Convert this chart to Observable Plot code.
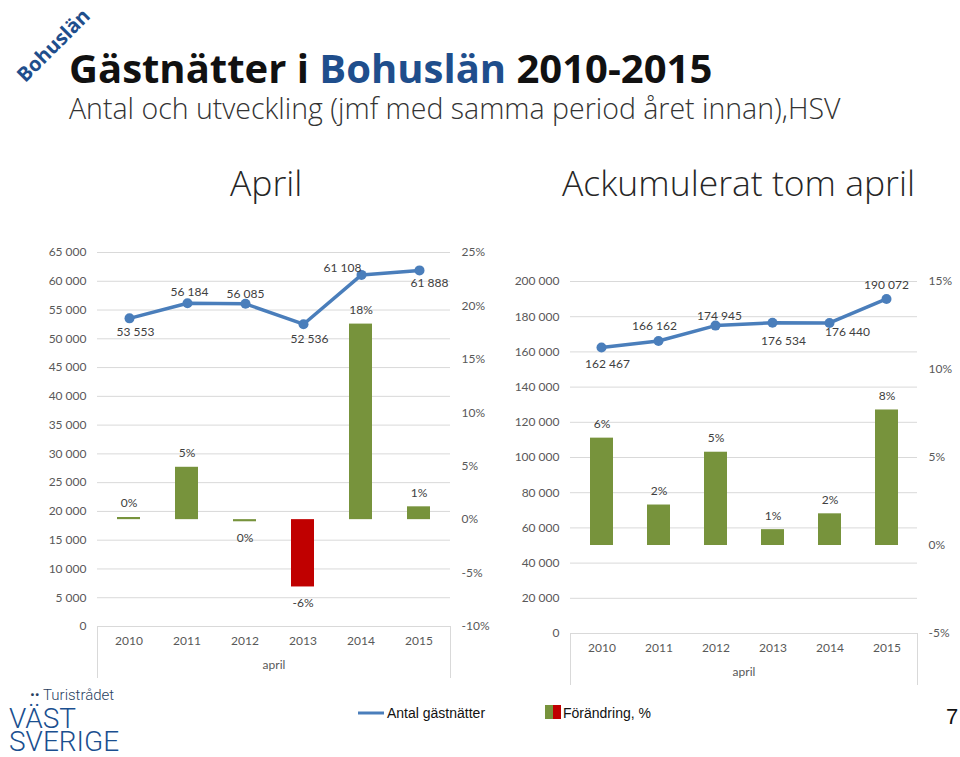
<!DOCTYPE html>
<html>
<head>
<meta charset="utf-8">
<script src="https://cdn.jsdelivr.net/npm/d3@7"></script>
<script src="https://cdn.jsdelivr.net/npm/@observablehq/plot@0.6"></script>
<style>
  html, body { margin: 0; padding: 0; background: #fff; }
  #page { position: relative; width: 960px; height: 757px; overflow: hidden; background: #fff; }
  .panel { position: absolute; }
  .panel svg { position: absolute; left: 0; top: 0; max-width: none; }
  .catbox { position: absolute; border-left: 1px solid #d9d9d9; border-right: 1px solid #d9d9d9; }
  #deco { position: absolute; left: 0; top: 0; }
</style>
</head>
<body>
<div id="page">
  <svg id="deco" width="960" height="757"></svg>
  <div class="panel" id="left"></div>
  <div class="panel" id="right"></div>
  <div class="catbox" style="left:97px; top:626px; width:352px; height:52px;"></div>
  <div class="catbox" style="left:570px; top:633px; width:346px; height:52px;"></div>
</div>
<script>
// ---------- data ----------
const years = ["2010", "2011", "2012", "2013", "2014", "2015"];

// April (left panel)
const aprilNights = [53553, 56184, 56085, 52536, 61108, 61888];
const aprilChange = [0.2, 4.9, -0.2, -6.3, 18.3, 1.2];          // %
const aprilCountTicks = [0, 5000, 10000, 15000, 20000, 25000, 30000, 35000, 40000, 45000, 50000, 55000, 60000, 65000];
const aprilPctTicks = [-10, -5, 0, 5, 10, 15, 20, 25];

// Ackumulerat tom april (right panel)
const cumNights = [162467, 166162, 174945, 176534, 176440, 190072];
const cumChange = [6.1, 2.3, 5.3, 0.9, 1.8, 7.7];               // %
const cumCountTicks = [0, 20000, 40000, 60000, 80000, 100000, 120000, 140000, 160000, 180000, 200000];
const cumPctTicks = [-5, 0, 5, 10, 15];

// label placement (styling only)
const aprilLabelDx = [6, 2, 0, 6, -19, 10];
const aprilLabelDy = [14, -11, -10, 15, -7, 13];
const cumLabelDx = [6, -4, 4, 11, 18, 0];
const cumLabelDy = [17, -15, -9, 18, 9, -14];

// ---------- styling ----------
const BLUE = "#4a7ebb";
const GREEN = "#77933c";
const RED = "#c00000";
const GRID = "#d9d9d9";
const AXIS_TXT = "#595959";
const LBL_TXT = "#404040";
const FONT = "Lato, 'Open Sans', sans-serif";

const fmtNum = d3.formatLocale({decimal: ",", thousands: "\u00a0", grouping: [3], currency: ["", ""]}).format(",d");
const fmtPct = d => `${Math.round(d) === 0 ? 0 : Math.round(d)}%`;

function panel(el, cfg) {
  const {width, height, mL, mR, mT, mB, counts, changes, countTicks, pctTicks, countMax, pctDomain, ldx, ldy, yearDy, aprilDy} = cfg;
  const rows = years.map((y, i) => ({year: y, n: counts[i], p: changes[i], dx: ldx[i], dy: ldy[i]}));
  const common = {
    width, height, marginLeft: mL, marginRight: mR, marginTop: mT, marginBottom: mB,
    style: {fontFamily: FONT, fontSize: "12px", color: AXIS_TXT, background: "transparent", overflow: "visible"}
  };
  // count layer (left axis, grid, line)
  const countPlot = Plot.plot({
    ...common,
    x: {type: "point", domain: years, padding: 0.5, axis: null},
    y: {domain: [0, countMax], axis: null},
    marks: [
      Plot.gridY(countTicks, {stroke: GRID, strokeOpacity: 1, strokeWidth: 1}),
      Plot.axisY(countTicks, {anchor: "left", tickSize: 0, tickPadding: 11, tickFormat: fmtNum, fill: AXIS_TXT, label: null}),
      Plot.line(rows, {x: "year", y: "n", stroke: BLUE, strokeWidth: 3.5}),
      Plot.dot(rows, {x: "year", y: "n", r: 5, fill: BLUE, stroke: "none"}),
      ...rows.map(r => Plot.text([r], {x: "year", y: "n", text: d => fmtNum(d.n), dx: r.dx, dy: r.dy, fill: LBL_TXT, fontSize: 12}))
    ]
  });
  // change layer (right axis, bars, x axis)
  const pctPlot = Plot.plot({
    ...common,
    x: {type: "band", domain: years, paddingInner: 0.6, paddingOuter: 0.3, axis: null},
    y: {domain: pctDomain, axis: null},
    marks: [
      Plot.barY(rows, {x: "year", y1: 0, y2: "p", fill: d => Math.round(d.p) < 0 ? RED : GREEN}),
      Plot.text(rows, {x: "year", y: "p", text: d => fmtPct(d.p), fill: LBL_TXT, fontSize: 12,
        filter: d => d.p >= 0, dy: -14}),
      Plot.text(rows, {x: "year", y: "p", text: d => fmtPct(d.p), fill: LBL_TXT, fontSize: 12,
        filter: d => d.p < 0, dy: 16}),
      Plot.axisY(pctTicks, {anchor: "right", tickSize: 0, tickPadding: 11, tickFormat: d => `${d}%`, fill: AXIS_TXT, label: null}),
      Plot.axisX({anchor: "bottom", tickSize: 0, tickPadding: yearDy, fill: AXIS_TXT, label: null, fontSize: 12}),
      Plot.text(["april"], {frameAnchor: "bottom", dy: aprilDy, fill: AXIS_TXT, fontSize: 12})
    ]
  });
  const host = document.getElementById(el);
  host.style.width = width + "px";
  host.style.height = height + "px";
  host.appendChild(countPlot);
  host.appendChild(pctPlot);
}

document.getElementById("left").style.cssText += "left:30px; top:240px;";
document.getElementById("right").style.cssText += "left:495px; top:270px;";

panel("left", {
  width: 465, height: 446, mL: 67, mR: 45, mT: 12, mB: 60,
  counts: aprilNights, changes: aprilChange, countTicks: aprilCountTicks, pctTicks: aprilPctTicks,
  countMax: 65000, pctDomain: [-10, 25], ldx: aprilLabelDx, ldy: aprilLabelDy, yearDy: 10, aprilDy: 42
});
panel("right", {
  width: 462, height: 420, mL: 75, mR: 40, mT: 11, mB: 57,
  counts: cumNights, changes: cumChange, countTicks: cumCountTicks, pctTicks: cumPctTicks,
  countMax: 200000, pctDomain: [-5, 15], ldx: cumLabelDx, ldy: cumLabelDy, yearDy: 10, aprilDy: 42
});

// ---------- slide decoration (titles, legend, logo) ----------
const deco = d3.select("#deco");
deco.append("text").attr("transform", "translate(53,45) rotate(-45)")
  .attr("text-anchor", "middle").attr("dominant-baseline", "central")
  .attr("font-family", "'Open Sans', sans-serif").attr("font-weight", 700).attr("font-size", 20)
  .attr("fill", "#1f4e8c").text("Bohuslän");

const title = deco.append("text").attr("x", 69).attr("y", 83)
  .attr("font-family", "'Open Sans', sans-serif").attr("font-weight", 700).attr("font-size", 40).attr("fill", "#111");
title.append("tspan").text("Gästnätter i ");
title.append("tspan").attr("fill", "#1f4e8c").text("Bohuslän");
title.append("tspan").text(" 2010-2015");

deco.append("text").attr("x", 69).attr("y", 119)
  .attr("font-family", "'Open Sans', sans-serif").attr("font-weight", 300).attr("font-size", 28.5).attr("fill", "#333")
  .text("Antal och utveckling (jmf med samma period året innan),HSV");

deco.append("text").attr("x", 230).attr("y", 196)
  .attr("font-family", "'Open Sans', sans-serif").attr("font-weight", 300).attr("font-size", 35.5).attr("fill", "#262626")
  .text("April");
deco.append("text").attr("x", 562).attr("y", 196)
  .attr("font-family", "'Open Sans', sans-serif").attr("font-weight", 300).attr("font-size", 35.5).attr("fill", "#262626")
  .text("Ackumulerat tom april");

// legend
deco.append("line").attr("x1", 358).attr("x2", 384).attr("y1", 713).attr("y2", 713)
  .attr("stroke", BLUE).attr("stroke-width", 3);
deco.append("text").attr("x", 387).attr("y", 718)
  .attr("font-family", "'Liberation Sans', Arial, sans-serif").attr("font-size", 14).attr("fill", "#111")
  .text("Antal gästnätter");
deco.append("rect").attr("x", 545).attr("y", 705).attr("width", 8).attr("height", 14).attr("fill", GREEN);
deco.append("rect").attr("x", 553).attr("y", 705).attr("width", 8).attr("height", 14).attr("fill", RED);
deco.append("text").attr("x", 563).attr("y", 718)
  .attr("font-family", "'Liberation Sans', Arial, sans-serif").attr("font-size", 14).attr("fill", "#111")
  .text("Förändring, %");

// page number
deco.append("text").attr("x", 946).attr("y", 724)
  .attr("font-family", "'Liberation Sans', Arial, sans-serif").attr("font-size", 22).attr("fill", "#111")
  .text("7");

// logo
const LOGO_BLUE = "#1b4f8f";
deco.append("text").attr("x", 30).attr("y", 700)
  .attr("font-family", "Roboto, sans-serif").attr("font-weight", 300).attr("font-size", 15).attr("fill", "#2a3f5f")
  .text("•• Turistrådet");
deco.append("text").attr("x", 9).attr("y", 728)
  .attr("font-family", "Roboto, sans-serif").attr("font-weight", 300).attr("font-size", 28)
  .attr("fill", LOGO_BLUE).text("VÄST");
deco.append("text").attr("x", 9).attr("y", 751)
  .attr("font-family", "Roboto, sans-serif").attr("font-weight", 300).attr("font-size", 28)
  .attr("fill", LOGO_BLUE).text("SVERIGE");
</script>
</body>
</html>
